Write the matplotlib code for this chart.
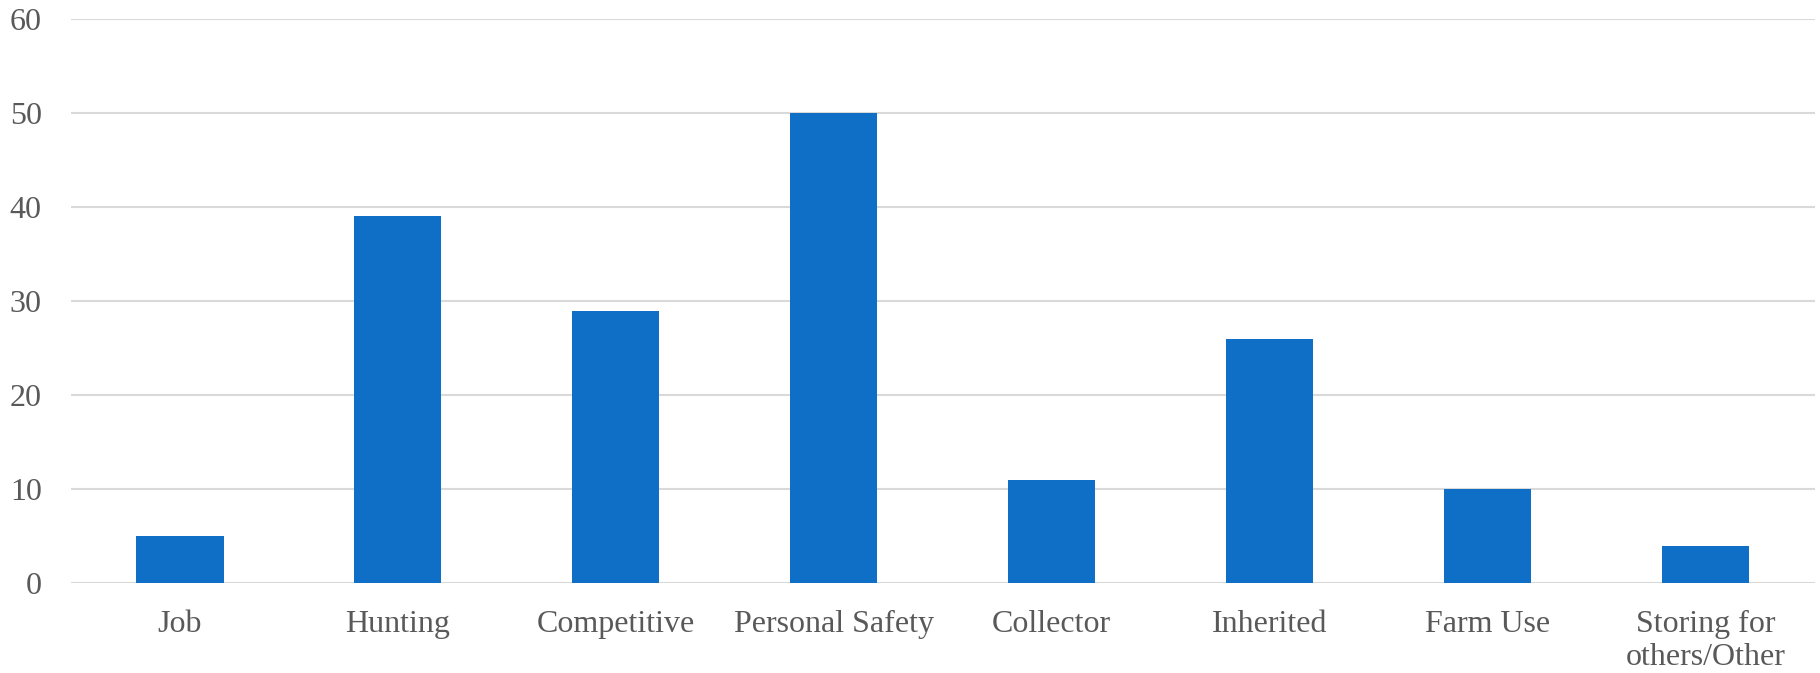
import numpy as np
from matplotlib import pyplot as plt

categories = ["Job", "Hunting", "Competitive", "Personal Safety", "Collector",
              "Inherited", "Farm Use", "Storing for\nothers/Other"]
counts = [5, 39, 29, 50, 11, 26, 10, 4]
y_ticks = [0, 10, 20, 30, 40, 50, 60]

plt.rcParams['font.family'] = ['Liberation Serif', 'DejaVu Serif']

fig = plt.figure(figsize=(18.2, 6.73), dpi=100)
ax = fig.add_axes([0.039, 0.133, 0.958, 0.839])

x = np.arange(len(categories))
ax.bar(x, counts, width=0.4, color='#0F6FC6', zorder=3)

ax.set_xlim(-0.5, len(categories) - 0.5)
ax.set_ylim(0, 60)
ax.set_yticks(y_ticks)
ax.set_xticks(x)
ax.set_xticklabels(categories, linespacing=1.2)
ax.grid(axis='y', color='#D9D9D9', linewidth=1.5, zorder=0)
ax.tick_params(axis='both', length=0, labelsize=23, labelcolor='#595959')
ax.tick_params(axis='y', pad=21)
ax.tick_params(axis='x', pad=19)
for s in ax.spines.values():
    s.set_visible(False)

fig.savefig('out.png', dpi=100)
